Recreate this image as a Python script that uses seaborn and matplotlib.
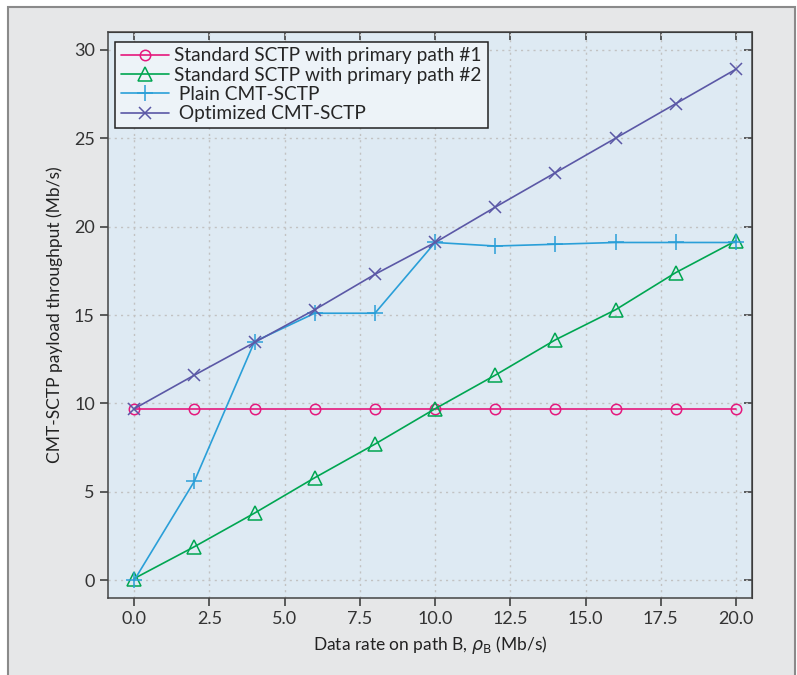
import matplotlib
matplotlib.use("Agg")
import matplotlib.pyplot as plt
from matplotlib.patches import Rectangle
import seaborn as sns
import pandas as pd

# data
rate_b = [0, 2, 4, 6, 8, 10, 12, 14, 16, 18, 20]
std_path1 = [9.7, 9.7, 9.7, 9.7, 9.7, 9.7, 9.7, 9.7, 9.7, 9.7, 9.7]
std_path2 = [0.1, 1.9, 3.8, 5.8, 7.7, 9.7, 11.6, 13.6, 15.3, 17.4, 19.2]
plain_cmt = [0.0, 5.6, 13.5, 15.1, 15.1, 19.1, 18.9, 19.0, 19.1, 19.1, 19.1]
optimized_cmt = [9.7, 11.6, 13.45, 15.3, 17.3, 19.1, 21.1, 23.05, 25.0, 26.95, 28.9]

labels = ["Standard SCTP with primary path #1",
          "Standard SCTP with primary path #2",
          " Plain CMT-SCTP",
          " Optimized CMT-SCTP"]
series = [std_path1, std_path2, plain_cmt, optimized_cmt]
colors = ["#e5187d", "#00a651", "#2a9fd8", "#5b58a6"]
markers = ["o", "^", "+", "x"]
msizes = [7.5, 9.5, 11, 8.5]

sns.set_style("ticks")
plt.rcParams["font.family"] = ["Lato", "DejaVu Sans"]
plt.rcParams["font.size"] = 12.5

fig = plt.figure(figsize=(7.97, 6.75), dpi=100)
fig.patch.set_facecolor("white")
fig.patches.append(Rectangle((8 / 797, -0.05), 787 / 797, 1.05 - 7 / 675,
                             transform=fig.transFigure, facecolor="#e6e7e8",
                             edgecolor="#8a8a8a", linewidth=1.5, zorder=-10))

ax = fig.add_axes([108 / 797, 77 / 675, 644 / 797, 566 / 675])
ax.set_zorder(5)
ax.set_facecolor("#deeaf3")

for lab, vals, c, m, ms in zip(labels, series, colors, markers, msizes):
    df = pd.DataFrame({"x": rate_b, "y": vals})
    sns.lineplot(data=df, x="x", y="y", ax=ax, color=c, marker=m,
                 markersize=ms, markerfacecolor="none", markeredgecolor=c,
                 markeredgewidth=1.1, linewidth=1.2, label=lab)

ax.set_xlim(-0.87, 20.53)
ax.set_ylim(-1, 31)
ax.set_xticks([0, 2.5, 5, 7.5, 10, 12.5, 15, 17.5, 20])
ax.set_xticklabels(["0.0", "2.5", "5.0", "7.5", "10.0", "12.5", "15.0", "17.5", "20.0"])
ax.set_yticks([0, 5, 10, 15, 20, 25, 30])
ax.grid(True, linestyle=(0, (1.5, 3)), color="#c2c2c2", linewidth=1.0)
ax.tick_params(direction="out", length=6, width=1.1, colors="#333333",
               labelsize=13)
for s in ax.spines.values():
    s.set_color("#444444")
    s.set_linewidth(1.1)

top = ax.secondary_xaxis("top")
top.set_xticks(ax.get_xticks())
top.tick_params(direction="in", length=6, width=1.1, labeltop=False, colors="#333333")
right = ax.secondary_yaxis("right")
right.set_yticks(ax.get_yticks())
right.tick_params(direction="in", length=6, width=1.1, labelright=False, colors="#333333")

ax.set_xlabel(r"Data rate on path B, $\rho_\mathrm{B}$ (Mb/s)", color="#222222", labelpad=5)
ax.set_ylabel("CMT-SCTP payload throughput (Mb/s)", color="#222222", labelpad=8)

leg = ax.legend(loc="upper left", bbox_to_anchor=(0.002, 0.993), frameon=True,
                fancybox=False, edgecolor="#222222", facecolor="#edf3f8",
                framealpha=1, handlelength=2.5, handletextpad=0.3,
                labelspacing=0.12, borderpad=0.3, borderaxespad=0.3, fontsize=13.8)
leg.get_frame().set_linewidth(1.1)

fig.savefig("out.png", dpi=100)
